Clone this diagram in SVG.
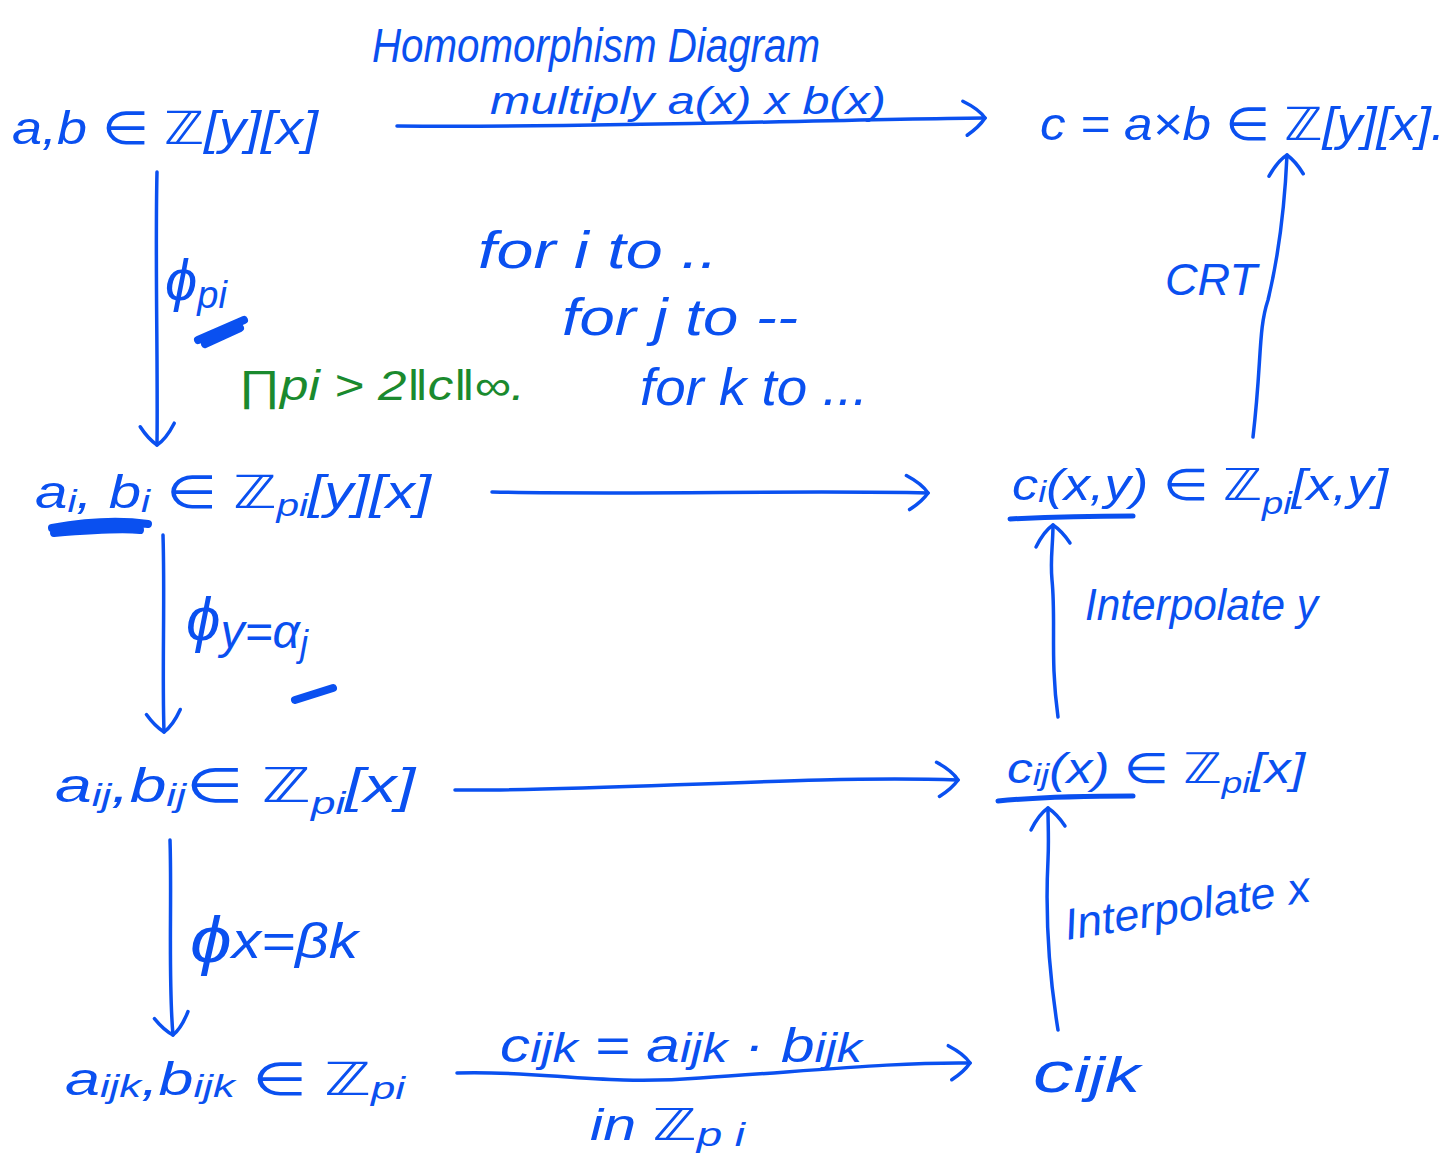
<svg xmlns="http://www.w3.org/2000/svg" width="1450" height="1153" viewBox="0 0 1450 1153">
<style>
  .t{font-family:"Liberation Sans","DejaVu Sans",sans-serif;fill:#0a50f0;font-style:italic}
  .g{font-family:"Liberation Sans","DejaVu Sans",sans-serif;fill:#1a8a2e;font-style:italic}
  .ln{fill:none;stroke:#0a50f0;stroke-width:3.5;stroke-linecap:round;stroke-linejoin:round}
  .ul{fill:none;stroke:#0a50f0;stroke-width:5;stroke-linecap:round}
  .sc{fill:none;stroke:#0a50f0;stroke-width:8;stroke-linecap:round}
</style>
<defs>
  <marker id="ah" viewBox="0 0 30 40" refX="26" refY="20" markerWidth="30" markerHeight="40" markerUnits="userSpaceOnUse" orient="auto">
    <path d="M4,3 Q20,11 26,20 Q20,29 8,37" fill="none" stroke="#0a50f0" stroke-width="3.5" stroke-linecap="round"/>
  </marker>
</defs>
<rect width="1450" height="1153" fill="#ffffff"/>

<g id="title">
  <text class="t" x="372" y="62" font-size="48" textLength="448" lengthAdjust="spacingAndGlyphs">Homomorphism  Diagram</text>
</g>

<g id="connectors">
  <path id="e-top" class="ln" marker-end="url(#ah)" d="M397,126 C600,128 800,120 985,118"/>
  <path id="e-left1" class="ln" marker-end="url(#ah)" d="M157,172 C155,260 158,360 157,445"/>
  <path id="e-left2" class="ln" marker-end="url(#ah)" d="M163,535 C165,600 162,670 164,732"/>
  <path id="e-left3" class="ln" marker-end="url(#ah)" d="M170,840 C172,900 168,980 173,1035"/>
  <path id="e-mid1" class="ln" marker-end="url(#ah)" d="M492,492 C640,495 800,490 928,493"/>
  <path id="e-mid2" class="ln" marker-end="url(#ah)" d="M455,790 C600,792 800,775 958,780"/>
  <path id="e-bot" class="ln" marker-end="url(#ah)" d="M457,1073 C540,1070 600,1086 700,1078 C820,1070 900,1062 970,1063"/>
  <path id="e-crt" class="ln" marker-end="url(#ah)" d="M1253,437 C1262,360 1258,330 1268,300 C1280,250 1285,200 1287,155"/>
  <path id="e-interpy" class="ln" marker-end="url(#ah)" d="M1058,717 C1050,660 1056,620 1052,580 C1050,560 1053,545 1053,525"/>
  <path id="e-interpx" class="ln" marker-end="url(#ah)" d="M1058,1030 C1050,980 1045,920 1048,860 C1049,840 1048,825 1048,808"/>
</g>

<g id="label-multiply">
  <text class="t" x="490" y="114" font-size="38" textLength="396" lengthAdjust="spacingAndGlyphs">multiply  a(x)  x   b(x)</text>
</g>

<g id="n-ab">
  <text class="t" x="12" y="144" font-size="46" textLength="306" lengthAdjust="spacingAndGlyphs">a,b ∈ ℤ[y][x]</text>
</g>

<g id="n-c">
  <text class="t" x="1040" y="140" font-size="46" textLength="405" lengthAdjust="spacingAndGlyphs">c = a×b ∈ ℤ[y][x].</text>
</g>

<g id="label-phipi">
  <text class="t" x="165" y="300" font-size="58">ϕ<tspan font-size="38" dy="8">pi</tspan></text>
  <path class="sc" d="M198,340 L244,320 M205,344 L240,328"/>
</g>

<g id="label-bound">
  <text class="g" x="238" y="400" font-size="42" textLength="287" lengthAdjust="spacingAndGlyphs">∏pi &gt; 2‖c‖∞.</text>
</g>

<g id="label-loops">
  <text class="t" x="478" y="268" font-size="52" textLength="240" lengthAdjust="spacingAndGlyphs">for i to ..</text>
  <text class="t" x="562" y="335" font-size="52" textLength="236" lengthAdjust="spacingAndGlyphs">for j to --</text>
  <text class="t" x="640" y="405" font-size="52" textLength="228" lengthAdjust="spacingAndGlyphs">for k to ...</text>
</g>

<g id="n-ai">
  <text class="t" x="35" y="508" font-size="46" textLength="396" lengthAdjust="spacingAndGlyphs">a<tspan font-size="32" dy="4">i</tspan><tspan dy="-4">, b</tspan><tspan font-size="32" dy="4">i</tspan><tspan dy="-4"> ∈ ℤ</tspan><tspan font-size="32" dy="8">pi</tspan><tspan dy="-8">[y][x]</tspan></text>
  <path class="sc" d="M52,528 C85,522 120,520 148,524 M54,533 C90,530 120,528 140,530" stroke-width="9"/>
</g>

<g id="n-ci">
  <text class="t" x="1012" y="500" font-size="44" textLength="376" lengthAdjust="spacingAndGlyphs">c<tspan font-size="30" dy="2">i</tspan><tspan dy="-2">(x,y) ∈ ℤ</tspan><tspan font-size="32" dy="14">pi</tspan><tspan dy="-14">[x,y]</tspan></text>
  <path class="ul" d="M1010,519 C1050,517 1100,516 1133,516"/>
</g>

<g id="label-crt">
  <text class="t" x="1165" y="295" font-size="44" textLength="92" lengthAdjust="spacingAndGlyphs">CRT</text>
</g>

<g id="label-interpy">
  <text class="t" x="1085" y="620" font-size="44" textLength="233" lengthAdjust="spacingAndGlyphs">Interpolate y</text>
</g>

<g id="label-phiy">
  <text class="t" x="186" y="640" font-size="62">ϕ<tspan font-size="48" dy="8">y=α</tspan><tspan font-size="36" dy="8">j</tspan></text>
  <path class="sc" d="M295,700 L333,688"/>
</g>

<g id="n-aij">
  <text class="t" x="55" y="802" font-size="48" textLength="360" lengthAdjust="spacingAndGlyphs">a<tspan font-size="32" dy="4">ij</tspan><tspan dy="-4">,b</tspan><tspan font-size="32" dy="4">ij</tspan><tspan dy="-4">∈ ℤ</tspan><tspan font-size="32" dy="12">pi</tspan><tspan dy="-12">[x]</tspan></text>
</g>

<g id="n-cij">
  <text class="t" x="1007" y="783" font-size="42" textLength="298" lengthAdjust="spacingAndGlyphs">c<tspan font-size="30" dy="2">ij</tspan><tspan dy="-2">(x) ∈ ℤ</tspan><tspan font-size="30" dy="10">pi</tspan><tspan dy="-10">[x]</tspan></text>
  <path class="ul" d="M998,801 C1040,797 1090,796 1133,796"/>
</g>

<g id="label-interpx">
  <text class="t" x="1067" y="940" font-size="44" textLength="248" lengthAdjust="spacingAndGlyphs" transform="rotate(-9 1067 940)">Interpolate x</text>
</g>

<g id="label-phix">
  <text class="t" x="190" y="962" font-size="64" textLength="168" lengthAdjust="spacingAndGlyphs">ϕ<tspan font-size="50" dy="-4">x=βk</tspan></text>
</g>

<g id="n-aijk">
  <text class="t" x="65" y="1095" font-size="46" textLength="340" lengthAdjust="spacingAndGlyphs">a<tspan font-size="32" dy="2">ijk</tspan><tspan dy="-2">,b</tspan><tspan font-size="32" dy="2">ijk</tspan><tspan dy="-2"> ∈ ℤ</tspan><tspan font-size="32" dy="4">pi</tspan></text>
</g>

<g id="label-prod">
  <text class="t" x="500" y="1062" font-size="48" textLength="362" lengthAdjust="spacingAndGlyphs">c<tspan font-size="40">ijk</tspan> = a<tspan font-size="40">ijk</tspan> · b<tspan font-size="40">ijk</tspan></text>
  <text class="t" x="590" y="1140" font-size="44" textLength="155" lengthAdjust="spacingAndGlyphs">in ℤ<tspan font-size="34" dy="6">p i</tspan></text>
</g>

<g id="n-cijk">
  <text class="t" x="1033" y="1092" font-size="58" textLength="107" lengthAdjust="spacingAndGlyphs">c<tspan font-size="50">ijk</tspan></text>
</g>
</svg>
